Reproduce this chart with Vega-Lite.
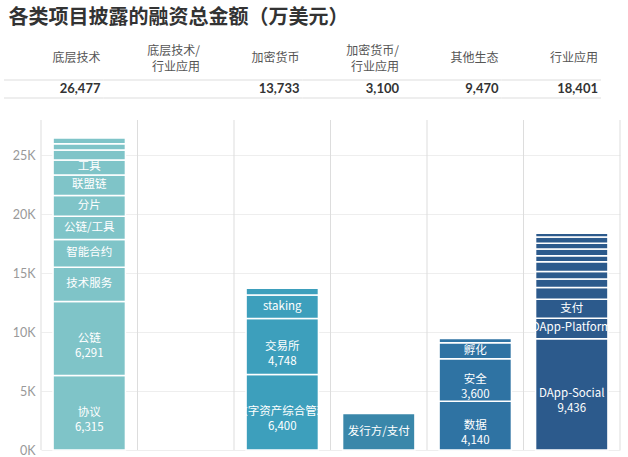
{
  "$schema": "https://vega.github.io/schema/vega-lite/v6.json",
  "padding": {"left": 3, "top": 8, "right": 5, "bottom": 5},
  "background": "white",
  "title": {"text": "各类项目披露的融资总金额（万美元）", "anchor": "start", "font": "Noto Sans CJK SC", "fontSize": 20, "fontWeight": "bold", "color": "#333333", "dx": 5, "offset": 16},
  "config": {"view": {"stroke": null}, "font": "Noto Sans CJK SC", "text": {"lineBreak": "\n"}},
  "datasets": {
    "header": [
      {"cat": "底层技术", "row": "name", "text": "底层技术", "lines": 1},
      {"cat": "底层技术/行业应用", "row": "name", "text": "底层技术/\n行业应用", "lines": 2},
      {"cat": "加密货币", "row": "name", "text": "加密货币", "lines": 1},
      {"cat": "加密货币/行业应用", "row": "name", "text": "加密货币/\n行业应用", "lines": 2},
      {"cat": "其他生态", "row": "name", "text": "其他生态", "lines": 1},
      {"cat": "行业应用", "row": "name", "text": "行业应用", "lines": 1},
      {"cat": "底层技术", "row": "value", "text": "26,477", "lines": 1},
      {"cat": "底层技术/行业应用", "row": "value", "text": "", "lines": 1},
      {"cat": "加密货币", "row": "value", "text": "13,733", "lines": 1},
      {"cat": "加密货币/行业应用", "row": "value", "text": "3,100", "lines": 1},
      {"cat": "其他生态", "row": "value", "text": "9,470", "lines": 1},
      {"cat": "行业应用", "row": "value", "text": "18,401", "lines": 1}
    ],
    "segs": [
      {"cat": "底层技术", "seg": "协议", "value": 6315, "label": "协议\n6,315", "k": 1},
      {"cat": "底层技术", "seg": "公链", "value": 6291, "label": "公链\n6,291", "k": 2},
      {"cat": "底层技术", "seg": "技术服务", "value": 2900, "label": "技术服务", "k": 3},
      {"cat": "底层技术", "seg": "智能合约", "value": 2350, "label": "智能合约", "k": 4},
      {"cat": "底层技术", "seg": "公链/工具", "value": 1980, "label": "公链/工具", "k": 5},
      {"cat": "底层技术", "seg": "分片", "value": 1750, "label": "分片", "k": 6},
      {"cat": "底层技术", "seg": "联盟链", "value": 1750, "label": "联盟链", "k": 7},
      {"cat": "底层技术", "seg": "工具", "value": 1270, "label": "工具", "k": 8},
      {"cat": "底层技术", "seg": "其他1", "value": 850, "label": "", "k": 9},
      {"cat": "底层技术", "seg": "其他2", "value": 520, "label": "", "k": 10},
      {"cat": "底层技术", "seg": "其他3", "value": 501, "label": "", "k": 11},
      {"cat": "加密货币", "seg": "数字资产综合管理", "value": 6400, "label": "数字资产综合管理\n6,400", "k": 1},
      {"cat": "加密货币", "seg": "交易所", "value": 4748, "label": "交易所\n4,748", "k": 2},
      {"cat": "加密货币", "seg": "staking", "value": 2000, "label": "staking", "k": 3},
      {"cat": "加密货币", "seg": "其他", "value": 585, "label": "", "k": 4},
      {"cat": "加密货币/行业应用", "seg": "发行方/支付", "value": 3100, "label": "发行方/支付", "k": 1},
      {"cat": "其他生态", "seg": "数据", "value": 4140, "label": "数据\n4,140", "k": 1},
      {"cat": "其他生态", "seg": "安全", "value": 3600, "label": "安全\n3,600", "k": 2},
      {"cat": "其他生态", "seg": "孵化", "value": 1350, "label": "孵化", "k": 3},
      {"cat": "其他生态", "seg": "其他", "value": 380, "label": "", "k": 4},
      {"cat": "行业应用", "seg": "DApp-Social", "value": 9436, "label": "DApp-Social\n9,436", "k": 1},
      {"cat": "行业应用", "seg": "DApp-Platform", "value": 1750, "label": "DApp-Platform", "k": 2},
      {"cat": "行业应用", "seg": "支付", "value": 1600, "label": "支付", "k": 3},
      {"cat": "行业应用", "seg": "其他1", "value": 1000, "label": "", "k": 4},
      {"cat": "行业应用", "seg": "其他2", "value": 720, "label": "", "k": 5},
      {"cat": "行业应用", "seg": "其他3", "value": 640, "label": "", "k": 6},
      {"cat": "行业应用", "seg": "其他4", "value": 820, "label": "", "k": 7},
      {"cat": "行业应用", "seg": "其他5", "value": 520, "label": "", "k": 8},
      {"cat": "行业应用", "seg": "其他6", "value": 570, "label": "", "k": 9},
      {"cat": "行业应用", "seg": "其他7", "value": 490, "label": "", "k": 10},
      {"cat": "行业应用", "seg": "其他8", "value": 520, "label": "", "k": 11},
      {"cat": "行业应用", "seg": "其他9", "value": 335, "label": "", "k": 12}
    ]
  },
  "columns": 1,
  "spacing": 20,
  "concat": [
    {
      "data": {"name": "header"},
      "width": 560,
      "height": 54,
      "layer": [
        {
          "mark": {"type": "rule", "color": "#dddddd", "strokeWidth": 1},
          "encoding": {
            "x": {"field": "cat", "type": "nominal", "bandPosition": 0, "scale": {"domain": ["底层技术", "底层技术/行业应用", "加密货币", "加密货币/行业应用", "其他生态", "行业应用"], "range": [-37, 560], "paddingInner": 0, "paddingOuter": 0}, "axis": null},
            "x2": {"field": "cat", "bandPosition": 1},
            "y": {"field": "row", "type": "nominal", "bandPosition": 1, "scale": {"domain": ["name", "value"], "range": [18, 54], "paddingInner": 0, "paddingOuter": 0}, "axis": null}
          }
        },
        {
          "transform": [{"filter": "datum.row === 'name' && datum.lines === 1"}],
          "mark": {"type": "text", "align": "right", "baseline": "middle", "dx": -3, "dy": -13, "fontSize": 12, "color": "#555555"},
          "encoding": {
            "x": {"field": "cat", "type": "nominal", "bandPosition": 1},
            "y": {"field": "row", "type": "nominal"},
            "text": {"field": "text"}
          }
        },
        {
          "transform": [{"filter": "datum.row === 'name' && datum.lines === 2"}],
          "mark": {"type": "text", "align": "right", "baseline": "middle", "dx": -3, "dy": -20.5, "fontSize": 12, "color": "#555555", "lineHeight": 16},
          "encoding": {
            "x": {"field": "cat", "type": "nominal", "bandPosition": 1},
            "y": {"field": "row", "type": "nominal"},
            "text": {"field": "text"}
          }
        },
        {
          "transform": [{"filter": "datum.row === 'value'"}],
          "mark": {"type": "text", "align": "right", "baseline": "middle", "dx": -3, "font": "Lato", "fontSize": 13, "fontWeight": "bold", "color": "#333333"},
          "encoding": {
            "x": {"field": "cat", "type": "nominal", "bandPosition": 1},
            "y": {"field": "row", "type": "nominal"},
            "text": {"field": "text"}
          }
        }
      ]
    },
    {
      "width": 579,
      "height": 330,
      "layer": [
        {
          "data": {"name": "header"},
          "transform": [{"filter": "datum.row === 'name'"}],
          "mark": {"type": "rule", "color": "#dddddd", "strokeWidth": 1},
          "encoding": {
            "x": {"field": "cat", "type": "nominal", "bandPosition": 0, "scale": {"domain": ["底层技术", "底层技术/行业应用", "加密货币", "加密货币/行业应用", "其他生态", "行业应用"], "paddingInner": 0, "paddingOuter": 0}, "axis": null}
          }
        },
        {
          "data": {"name": "header"},
          "transform": [{"filter": "datum.row === 'name' && datum.cat === '行业应用'"}],
          "mark": {"type": "rule", "color": "#dddddd", "strokeWidth": 1},
          "encoding": {
            "x": {"field": "cat", "type": "nominal", "bandPosition": 1}
          }
        },
        {
          "data": {"name": "segs"},
          "mark": {"type": "bar", "stroke": "white", "strokeWidth": 1.5, "width": {"band": 0.75}},
          "encoding": {
            "x": {"field": "cat", "type": "nominal"},
            "y": {"field": "value", "type": "quantitative", "stack": "zero", "scale": {"domain": [0, 28000], "nice": false},
              "axis": {"values": [0, 5000, 10000, 15000, 20000, 25000], "labelExpr": "datum.value / 1000 + 'K'", "grid": true, "gridColor": "#eeeeee", "domain": false, "ticks": false, "labelColor": "#999999", "labelFont": "Lato", "labelFontSize": 12.5, "labelPadding": 6, "minExtent": 37, "title": null}},
            "color": {"field": "cat", "type": "nominal", "scale": {"domain": ["底层技术", "底层技术/行业应用", "加密货币", "加密货币/行业应用", "其他生态", "行业应用"], "range": ["#7fc4c8", "#5fb0c2", "#3d9fbc", "#3a87aa", "#2f73a3", "#2c5a8c"]}, "legend": null},
            "order": {"field": "k", "type": "quantitative"}
          }
        },
        {
          "data": {"name": "segs"},
          "transform": [
            {"stack": "value", "groupby": ["cat"], "sort": [{"field": "k"}], "as": ["y0", "y1"]},
            {"calculate": "(datum.y0 + datum.y1) / 2", "as": "mid"},
            {"filter": "datum.label !== ''"}
          ],
          "mark": {"type": "text", "color": "white", "fontSize": 11.5, "baseline": "middle", "lineHeight": 15},
          "encoding": {
            "x": {"field": "cat", "type": "nominal"},
            "y": {"field": "mid", "type": "quantitative"},
            "text": {"field": "label"},
            "fontWeight": {"condition": {"test": "datum.seg === '孵化' || datum.seg === 'staking'", "value": "bold"}, "value": "normal"}
          }
        }
      ]
    }
  ]
}
